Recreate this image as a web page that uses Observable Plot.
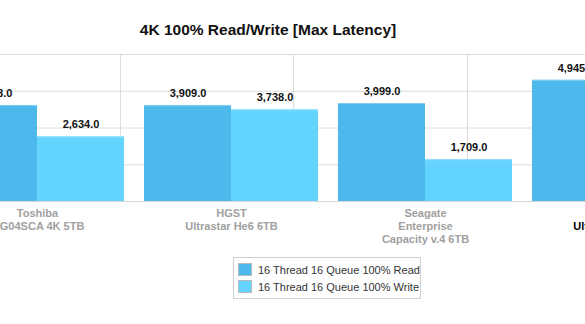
<!DOCTYPE html>
<html>
<head>
<meta charset="utf-8">
<script src="https://cdn.jsdelivr.net/npm/d3@7"></script>
<script src="https://cdn.jsdelivr.net/npm/@observablehq/plot@0.6"></script>
<style>
  html, body { margin: 0; padding: 0; background: #fff; overflow: hidden; width: 585px; height: 324px; }
  body { font-family: "Liberation Sans", Arial, Helvetica, sans-serif; }
  #title { height: 40px; box-sizing: border-box; padding-top: 21px; width: 536px; text-align: center; font-weight: bold; font-size: 15.5px; color: #111; line-height: 18px; }
  #legend { margin-left: 233px; margin-top: 7px; width: 188px; border: 1px solid #d0d0d0; padding: 3px 4px; box-sizing: border-box; font-size: 11px; color: #333; white-space: nowrap; }
  .item { display: flex; align-items: center; height: 17px; }
  .sw { flex: none; width: 12px; height: 11px; border: 1px solid #bbb; margin-right: 6px; }
</style>
</head>
<body>
<div id="title">4K 100% Read/Write [Max Latency]</div>
<div id="chart"></div>
<div id="legend"></div>
<script>
const categories = ["Toshiba\nMG04SCA 4K 5TB", "HGST\nUltrastar He6 6TB", "Seagate\nEnterprise\nCapacity v.4 6TB", "HGST\nUltrastar He8 8TB"];
const highlighted = [false, false, false, true];
const seriesNames = ["16 Thread 16 Queue 100% Read", "16 Thread 16 Queue 100% Write"];
const readValues = [3918, 3909, 3999, 4945];
const writeValues = [2634, 3738, 1709, 3700];
const yGridTicks = [1500, 3000, 4500, 6000];
const xGridTicks = [0.428, 1.32, 2.216];
const colors = ["#4db8eb", "#62d4fd"];
const topColors = ["#7dccf1", "#8ee0fe"];

const barW = 0.4485;
const rows = [];
categories.forEach((c, i) => {
  rows.push({i, s: 0, value: readValues[i], x1: i - barW, x2: i});
  rows.push({i, s: 1, value: writeValues[i], x1: i, x2: i + barW});
});
const cats = categories.map((label, i) => ({i, label, hl: highlighted[i]}));
const fmt = d3.format(",.1f");

const chart = Plot.plot({
  width: 585,
  height: 210,
  marginLeft: 0,
  marginRight: 0,
  marginTop: 14,
  marginBottom: 49,
  x: {type: "linear", domain: [-37 / 194, 548 / 194], axis: null},
  y: {domain: [0, 6000], axis: null},
  style: {fontFamily: "Liberation Sans, Arial, sans-serif", overflow: "visible"},
  marks: [
    Plot.ruleY(yGridTicks, {stroke: "#dcdcdc", strokeWidth: 1}),
    Plot.ruleX(xGridTicks, {y1: 0, y2: 6000, stroke: "#dcdcdc", strokeWidth: 1}),
    Plot.rectY(rows, {x1: "x1", x2: "x2", y1: 0, y2: "value", fill: d => colors[d.s]}),
    Plot.ruleY(rows, {x1: "x1", x2: "x2", y: "value", stroke: d => topColors[d.s], strokeWidth: 1.2}),
    Plot.ruleY([0], {stroke: "#d6d6d6", strokeWidth: 1}),
    Plot.text(rows, {x: d => (d.x1 + d.x2) / 2, y: "value", text: d => fmt(d.value), dy: -12, fontSize: 11, fontWeight: "bold", fill: "#111"}),
    Plot.text(cats, {x: "i", y: 0, text: "label", dy: 6, lineAnchor: "top", lineHeight: 1.18, fontSize: 11, fontWeight: "bold", fill: d => d.hl ? "#000" : "#a0a0a0"})
  ]
});
document.getElementById("chart").appendChild(chart);

const legend = document.getElementById("legend");
seriesNames.forEach((n, k) => {
  const it = document.createElement("div");
  it.className = "item";
  const sw = document.createElement("span");
  sw.className = "sw";
  sw.style.background = colors[k];
  it.appendChild(sw);
  const t = document.createElement("span");
  t.textContent = n;
  it.appendChild(t);
  legend.appendChild(it);
});
</script>
</body>
</html>
